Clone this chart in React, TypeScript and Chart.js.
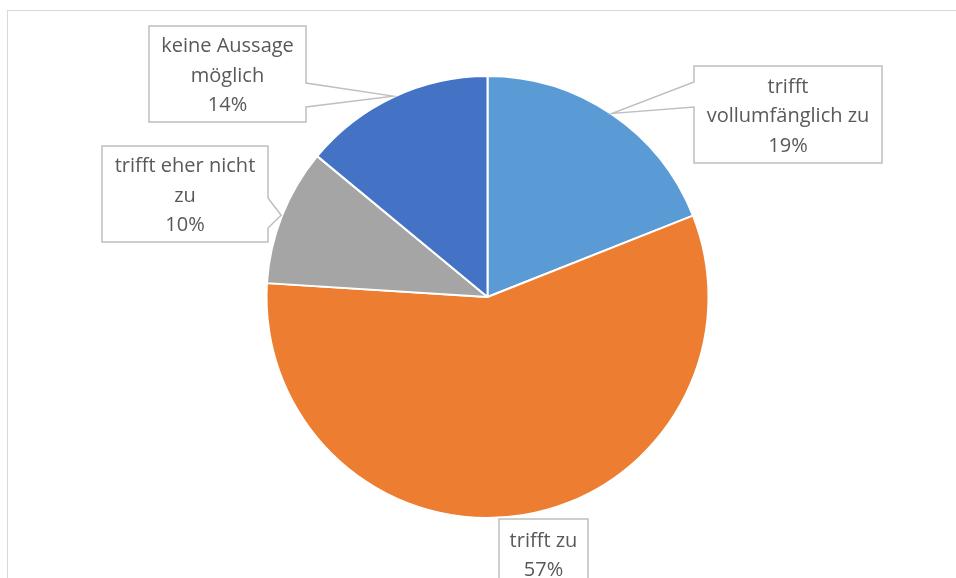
import React, { useEffect, useRef } from "react";
import { Chart, registerables } from "chart.js";

Chart.register(...registerables);

const categories = [
  "trifft vollumfänglich zu",
  "trifft zu",
  "trifft eher nicht zu",
  "keine Aussage möglich",
];
// the same labels, split into the lines shown in the callouts
const labelLines = [
  ["trifft", "vollumfänglich zu"],
  ["trifft zu"],
  ["trifft eher nicht", "zu"],
  ["keine Aussage", "möglich"],
];
const values = [19, 57, 10, 14];
const colors = ["#5B9BD5", "#ED7D31", "#A5A5A5", "#4472C4"];

// callout boxes: x, y, w, h, wedge side and wedge base (offsets from box top)
const callouts = [
  { x: 694, y: 66, w: 188, h: 97, side: "left", b1: 16, b2: 41 },
  { x: 499, y: 519, w: 89, h: 70, side: "none", b1: 0, b2: 0 },
  { x: 102, y: 146, w: 166, h: 96, side: "right", b1: 52, b2: 82 },
  { x: 149, y: 26, w: 157, h: 96, side: "right", b1: 57, b2: 81 },
];

const FONT = "20px 'Open Sans', sans-serif";

const calloutPlugin = {
  id: "callouts",
  beforeDraw(chart: any) {
    const ctx = chart.ctx;
    ctx.save();
    ctx.fillStyle = "#ffffff";
    ctx.fillRect(0, 0, chart.width, chart.height);
    ctx.strokeStyle = "#D9D9D9";
    ctx.lineWidth = 1;
    ctx.strokeRect(7.5, 10.5, 2000, 2000);
    ctx.restore();
  },
  afterDatasetsDraw(chart: any) {
    const ctx = chart.ctx;
    const meta = chart.getDatasetMeta(0);
    const total = values.reduce((a, b) => a + b, 0);
    ctx.save();
    ctx.font = FONT;
    meta.data.forEach((arc: any, i: number) => {
      const c = callouts[i];
      const p = arc.getProps(["x", "y", "startAngle", "endAngle", "outerRadius"], true);
      const mid = (p.startAngle + p.endAngle) / 2;
      const tx = p.x + Math.cos(mid) * (p.outerRadius + 1);
      const ty = p.y + Math.sin(mid) * (p.outerRadius + 1);
      const { x, y, w, h } = c;
      ctx.beginPath();
      if (c.side === "left") {
        ctx.moveTo(x, y);
        ctx.lineTo(x + w, y);
        ctx.lineTo(x + w, y + h);
        ctx.lineTo(x, y + h);
        ctx.lineTo(x, y + c.b2);
        ctx.lineTo(tx, ty);
        ctx.lineTo(x, y + c.b1);
        ctx.closePath();
      } else if (c.side === "right") {
        ctx.moveTo(x, y);
        ctx.lineTo(x + w, y);
        ctx.lineTo(x + w, y + c.b1);
        ctx.lineTo(tx, ty);
        ctx.lineTo(x + w, y + c.b2);
        ctx.lineTo(x + w, y + h);
        ctx.lineTo(x, y + h);
        ctx.closePath();
      } else {
        ctx.rect(x, y, w, h);
      }
      ctx.fillStyle = "#ffffff";
      ctx.fill();
      ctx.strokeStyle = "#BFBFBF";
      ctx.lineWidth = 1.5;
      ctx.stroke();

      const lines = labelLines[i].slice();
      lines.push(Math.round((values[i] / total) * 100) + "%");
      const lh = 29.5;
      const cy = i === 1 ? y + 22 : y + h / 2 + 2 - ((lines.length - 1) * lh) / 2;
      ctx.fillStyle = "#595959";
      ctx.textAlign = "center";
      ctx.textBaseline = "middle";
      lines.forEach((ln, k) => ctx.fillText(ln, x + w / 2, cy + k * lh));
    });
    ctx.restore();
  },
};

export default function App() {
  const ref = useRef<HTMLCanvasElement>(null);
  useEffect(() => {
    if (!ref.current) return;
    const chart = new Chart(ref.current, {
      type: "pie",
      data: {
        labels: categories,
        datasets: [
          {
            data: values,
            backgroundColor: colors,
            borderColor: "#ffffff",
            borderWidth: 2,
          },
        ],
      },
      options: {
        responsive: false,
        animation: false,
        layout: { padding: { left: 265, right: 246, top: 75, bottom: 59 } },
        plugins: { legend: { display: false }, tooltip: { enabled: false } },
        events: [],
      },
      plugins: [calloutPlugin],
    });
    return () => chart.destroy();
  }, []);
  return (
    <div style={{ position: "fixed", left: 0, top: 0, width: 956, height: 578 }}>
      <canvas ref={ref} width={956} height={578} style={{ width: 956, height: 578 }} />
    </div>
  );
}
